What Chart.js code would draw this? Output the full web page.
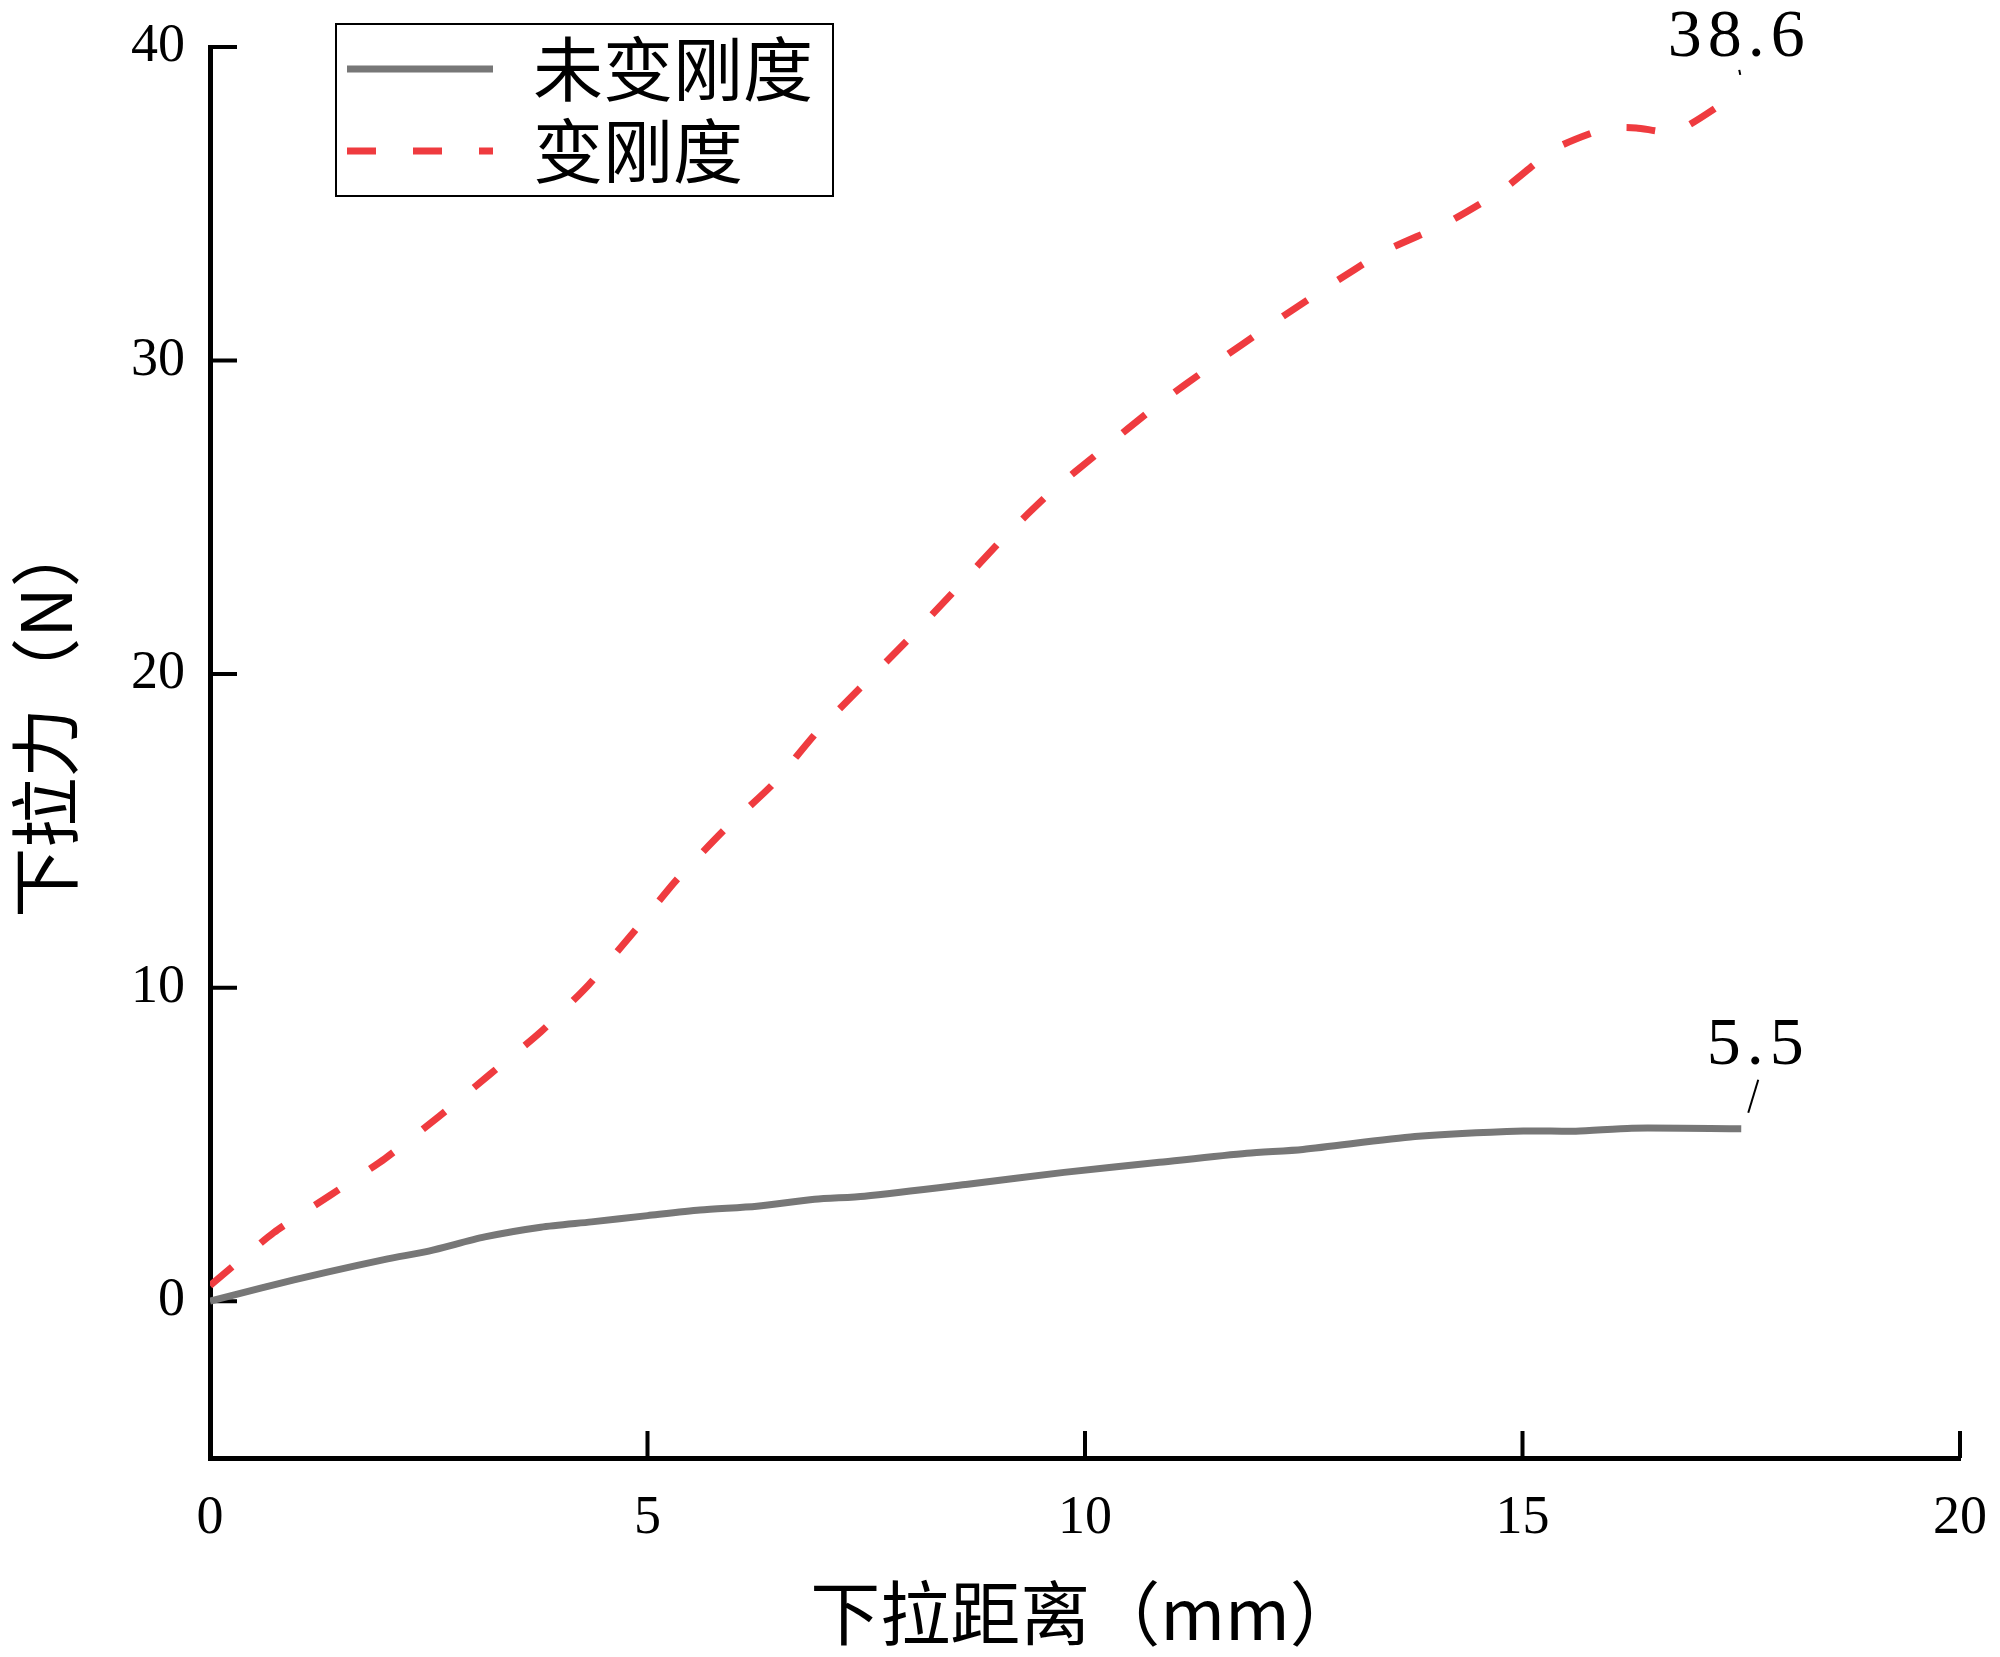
<!DOCTYPE html>
<html lang="zh">
<head>
<meta charset="utf-8">
<title>下拉力-下拉距离</title>
<script src="https://cdn.jsdelivr.net/npm/chart.js@4.4.1/dist/chart.umd.min.js"></script>
<style>
  html, body { margin: 0; padding: 0; background: #fff; }
  canvas { display: block; }
</style>
</head>
<body>
<canvas id="myChart" width="2000" height="1657"></canvas>
<script>
// 下拉距离 (mm) / 下拉力 (N)
const seriesNames = ['未变刚度', '变刚度'];

const distA  = [0, 0.58, 1.34, 2.03, 2.5, 3.14, 3.78, 4.36, 5.0, 5.6, 6.25, 6.91, 7.48, 8.66, 9.76, 10.85, 11.85, 12.49, 13.77, 15.01, 15.61, 16.25, 17.5];
const forceA = [0, 0.42, 0.93, 1.35, 1.6, 2.05, 2.36, 2.53, 2.73, 2.91, 3.03, 3.25, 3.35, 3.73, 4.11, 4.43, 4.72, 4.84, 5.25, 5.43, 5.42, 5.52, 5.5];

const distB  = [0, 0.73, 1.37, 2.0, 2.62, 3.2, 3.78, 4.33, 4.85, 5.32, 5.88, 6.43, 6.93, 7.47, 8.01, 8.54, 9.07, 9.62, 10.15, 10.83, 11.46, 12.12, 12.75, 13.42, 14.13, 14.77, 15.38, 15.95, 16.3, 16.75, 17.5];
const forceB = [0.5, 2.19, 3.37, 4.55, 5.9, 7.24, 8.59, 10.1, 11.8, 13.4, 15.04, 16.48, 18.13, 19.67, 21.19, 22.75, 24.35, 25.83, 27.05, 28.59, 29.86, 31.14, 32.31, 33.48, 34.38, 35.44, 36.77, 37.4, 37.42, 37.3, 38.6];

const xTicks = [0, 5, 10, 15, 20];
const yTicks = [0, 10, 20, 30, 40];

const grey = '#777777';
const red = '#ef3b3f';
const tickFont = { family: 'Liberation Serif', size: 54 };
const titleFont = { family: 'Noto Sans CJK SC', size: 70 };

const toPoints = (xs, ys) => xs.map((x, i) => ({ x: x, y: ys[i] }));

// 向内的刻度线
const innerTicks = {
  id: 'innerTicks',
  beforeDatasetsDraw(chart) {
    const ctx = chart.ctx;
    const sx = chart.scales.x, sy = chart.scales.y;
    const len = 27;
    ctx.save();
    ctx.strokeStyle = '#000';
    ctx.lineWidth = 4;
    ctx.beginPath();
    sx.ticks.forEach(t => {
      const p = sx.getPixelForValue(t.value);
      ctx.moveTo(p, sx.top);
      ctx.lineTo(p, sx.top - len);
    });
    sy.ticks.forEach(t => {
      const p = sy.getPixelForValue(t.value);
      ctx.moveTo(sy.right, p);
      ctx.lineTo(sy.right + len, p);
    });
    ctx.stroke();
    ctx.restore();
  }
};

// 带边框的图例
const boxLegend = {
  id: 'boxLegend',
  afterDraw(chart) {
    const ctx = chart.ctx;
    ctx.save();
    ctx.strokeStyle = '#000';
    ctx.lineWidth = 2;
    ctx.strokeRect(336, 24, 497, 172);
    chart.data.datasets.forEach((ds, i) => {
      const y = 69 + i * 82;
      ctx.beginPath();
      ctx.strokeStyle = ds.borderColor;
      ctx.lineWidth = 7;
      ctx.setLineDash(ds.borderDash || []);
      ctx.moveTo(347, y);
      ctx.lineTo(493, y);
      ctx.stroke();
      ctx.setLineDash([]);
      ctx.fillStyle = '#000';
      ctx.font = '70px "Noto Sans CJK SC"';
      ctx.textBaseline = 'middle';
      ctx.fillText(ds.label, 533, y);
    });
    ctx.restore();
  }
};

// 末端数值标注
const endLabels = {
  id: 'endLabels',
  afterDatasetsDraw(chart) {
    const ctx = chart.ctx;
    const sx = chart.scales.x, sy = chart.scales.y;
    const offs = [
      { tx: 17, ty: -83, l: [7, -16, 17, -49] },
      { tx: -2, ty: -53, l: [-2, -21, -1, -16] }
    ];
    ctx.save();
    chart.data.datasets.forEach((ds, i) => {
      const last = ds.data[ds.data.length - 1];
      const px = sx.getPixelForValue(last.x);
      const py = sy.getPixelForValue(last.y);
      const o = offs[i];
      ctx.strokeStyle = '#000';
      ctx.lineWidth = 2;
      ctx.beginPath();
      ctx.moveTo(px + o.l[0], py + o.l[1]);
      ctx.lineTo(px + o.l[2], py + o.l[3]);
      ctx.stroke();
      ctx.fillStyle = '#000';
      ctx.font = '68px "Liberation Serif"';
      ctx.letterSpacing = '6px';
      ctx.textAlign = 'center';
      ctx.textBaseline = 'middle';
      ctx.fillText(last.y.toFixed(1), px + o.tx, py + o.ty);
    });
    ctx.restore();
  }
};

const ctx = document.getElementById('myChart').getContext('2d');
const myChart = new Chart(ctx, {
  type: 'line',
  data: {
    datasets: [{
      label: seriesNames[0],
      data: toPoints(distA, forceA),
      borderColor: grey,
      borderWidth: 7,
      pointRadius: 0,
      tension: 0.25,
      fill: false
    }, {
      label: seriesNames[1],
      data: toPoints(distB, forceB),
      borderColor: red,
      borderWidth: 7,
      borderDash: [29, 37],
      pointRadius: 0,
      tension: 0.2,
      fill: false
    }]
  },
  options: {
    responsive: false,
    animation: false,
    layout: { padding: { top: 47, right: 40, left: 0, bottom: 0 } },
    plugins: {
      legend: { display: false },
      tooltip: { enabled: false }
    },
    scales: {
      x: {
        type: 'linear',
        min: 0,
        max: 20,
        afterBuildTicks: s => { s.ticks = xTicks.map(v => ({ value: v })); },
        afterFit: s => { s.height = 199; s.paddingLeft = 0; s.paddingRight = 0; },
        border: { display: true, color: '#000', width: 5 },
        grid: { display: false, drawTicks: false },
        ticks: { padding: 28, color: '#000', font: tickFont, maxRotation: 0, autoSkip: false },
        title: { display: true, text: '下拉距离（mm）', color: '#000', font: titleFont, padding: { top: 0, bottom: 2 } }
      },
      y: {
        type: 'linear',
        min: -5,
        max: 40,
        afterBuildTicks: s => { s.ticks = yTicks.map(v => ({ value: v })); },
        afterFit: s => { s.width = 210; s.paddingTop = 0; s.paddingBottom = 0; },
        border: { display: true, color: '#000', width: 5 },
        grid: { display: false, drawTicks: false },
        ticks: { padding: 25, color: '#000', font: tickFont, autoSkip: false },
        title: { display: true, text: '\u3000下拉力（N）', color: '#000', font: titleFont, padding: { top: 3, bottom: 0 } }
      }
    }
  },
  plugins: [innerTicks, boxLegend, endLabels]
});
</script>
</body>
</html>
